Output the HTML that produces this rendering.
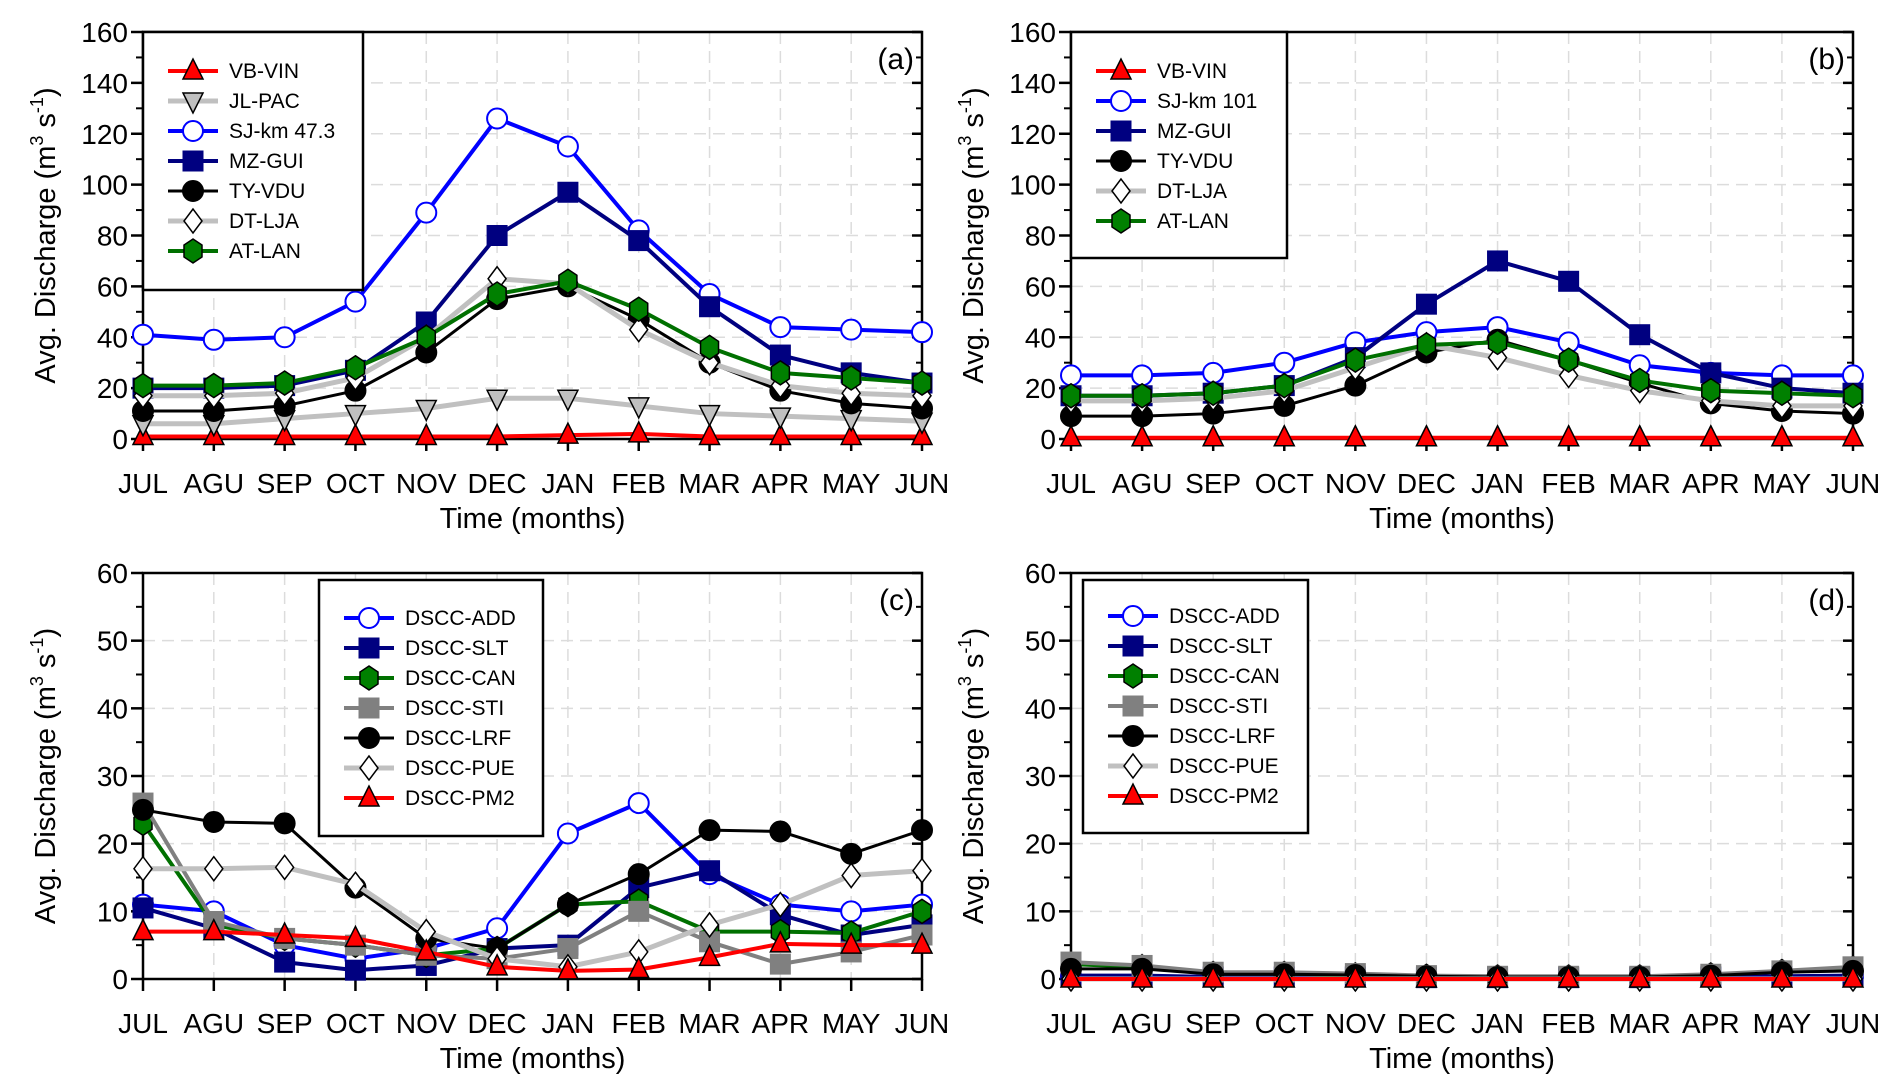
<!DOCTYPE html>
<html><head><meta charset="utf-8"><style>
html,body{margin:0;padding:0;background:#fff;}
svg{display:block;}
text{font-family:"Liberation Sans",Arial,sans-serif;}
</style></head><body>
<svg id="chart" width="1892" height="1092" viewBox="0 0 1892 1092" xmlns="http://www.w3.org/2000/svg"></svg>
<script>
const months = ["JUL","AGU","SEP","OCT","NOV","DEC","JAN","FEB","MAR","APR","MAY","JUN"];
const ticksAB = [0,20,40,60,80,100,120,140,160];
const ticksCD = [0,10,20,30,40,50,60];

// Panel (a)
const aVBVIN = [1,1,1,1,1,1,1.5,2,1,1,1,1];
const aJLPAC = [6,6,8,10,12,16,16,13,10,9,8,7];
const aSJ473 = [41,39,40,54,89,126,115,82,57,44,43,42];
const aMZGUI = [20,20,21,27,46,80,97,78,52,33,26,22];
const aTYVDU = [11,11,13,19,34,55,60,47,30,19,14,12];
const aDTLJA = [17,17,18,24,40,63,61,43,30,21,18,17];
const aATLAN = [21,21,22,28,40,57,62,51,36,26,24,22];
// Panel (b)
const bVBVIN = [0.5,0.5,0.5,0.5,0.5,0.5,0.5,0.5,0.5,0.5,0.5,0.5];
const bSJ101 = [25,25,26,30,38,42,44,38,29,26,25,25];
const bMZGUI = [17,17,18,21,32,53,70,62,41,26,20,18];
const bTYVDU = [9,9,10,13,21,34,39,31,22,14,11,10];
const bDTLJA = [15,15,16,19,28,37,32,25,19,15,13,13];
const bATLAN = [17,17,18,21,31,37,38,31,23,19,18,17];
// Panel (c)
const cADD = [11,10,5,3,4.5,7.5,21.5,26,15.5,11,10,11];
const cSLT = [10.5,7.5,2.5,1.3,2,4.5,5,13.5,16,9.5,6.5,8];
const cCAN = [23,8,6,5,3.5,4.5,11,11.5,7,7,6.8,10];
const cSTI = [26,8.5,6,5,3.5,3,4.5,10,5.5,2.2,4,6.5];
const cLRF = [25,23.2,23,13.5,6,4.5,11,15.5,22,21.8,18.5,22];
const cPUE = [16.3,16.3,16.5,14,7,3,1.8,4,8,11,15.3,16];
const cPM2 = [7,7,6.5,6,4,1.8,1.2,1.4,3.2,5.2,5,5];
// Panel (d)
const dADD = [0.4,0.4,0.3,0.3,0.3,0.2,0.2,0.2,0.2,0.3,0.3,0.4];
const dSLT = [0.5,0.5,0.3,0.3,0.3,0.2,0.2,0.2,0.2,0.3,0.4,0.5];
const dCAN = [2.2,1.8,0.8,0.8,0.6,0.4,0.3,0.3,0.3,0.6,1.1,1.6];
const dSTI = [2.5,2,1,1,0.8,0.5,0.4,0.4,0.4,0.7,1.2,1.8];
const dLRF = [1.5,1.5,0.7,0.7,0.6,0.4,0.3,0.3,0.3,0.5,1,1.2];
const dPUE = [0,0,0,0,0,0,0,0,0,0,0,0];
const dPM2 = [0,0,0,0,0,0,0,0,0,0,0,0];

const NS="http://www.w3.org/2000/svg";
const svg=document.getElementById('chart');
function mk(tag,attrs,parent){const e=document.createElementNS(NS,tag);for(const k in attrs)e.setAttribute(k,attrs[k]);(parent||svg).appendChild(e);return e;}

const ST = {
 vb:{line:"#ff0000",lw:4,m:"triU",fill:"#ff0000"},
 jl:{line:"#c0c0c0",lw:5,m:"triD",fill:"#c0c0c0"},
 sj:{line:"#0000ff",lw:4,m:"circ",fill:"#ffffff",stroke:"#0000ff"},
 mz:{line:"#000080",lw:4,m:"sq",fill:"#000080",stroke:"#000080"},
 ty:{line:"#000000",lw:3,m:"circ",fill:"#000000"},
 dt:{line:"#c0c0c0",lw:5,m:"dia",fill:"#ffffff"},
 at:{line:"#007000",lw:4,m:"hex",fill:"#008000"},
 sti:{line:"#808080",lw:4,m:"sq",fill:"#808080",stroke:"#808080"}
};

function marker(g,type,x,y,st){
 const s=st.stroke||"#000"; const r=10;
 let e;
 if(type==="circ") e=mk('circle',{cx:x,cy:y,r:r,fill:st.fill,stroke:s,'stroke-width':2},g);
 else if(type==="sq") e=mk('rect',{x:x-r,y:y-r,width:2*r,height:2*r,fill:st.fill,stroke:s,'stroke-width':1},g);
 else if(type==="triU") e=mk('polygon',{points:`${x},${y-12} ${x-10},${y+8} ${x+10},${y+8}`,fill:st.fill,stroke:s,'stroke-width':1.5},g);
 else if(type==="triD") e=mk('polygon',{points:`${x},${y+12} ${x-10},${y-8} ${x+10},${y-8}`,fill:st.fill,stroke:s,'stroke-width':1.5},g);
 else if(type==="dia") e=mk('polygon',{points:`${x},${y-12} ${x-9},${y} ${x},${y+12} ${x+9},${y}`,fill:st.fill,stroke:s,'stroke-width':1.5},g);
 else if(type==="hex") e=mk('polygon',{points:`${x},${y-12} ${x+9},${y-6} ${x+9},${y+6} ${x},${y+12} ${x-9},${y+6} ${x-9},${y-6}`,fill:st.fill,stroke:s,'stroke-width':1.5},g);
 return e;
}

function panel(cfg){
 const {x0,x1,y0,y1,max,ticks,minor,label,series,legend,name}=cfg;
 const g=mk('g',{});
 
 
 const xs=i=>x0+(x1-x0)*i/(months.length-1);
 const ys=v=>y1-(y1-y0)*v/max;
 months.forEach((m,i)=>{ if(i>0&&i<months.length-1) mk('line',{x1:xs(i),x2:xs(i),y1:y0,y2:y1,stroke:"#dcdcdc",'stroke-width':1.5,'stroke-dasharray':"12,7"},g);});
 ticks.forEach(t=>{ if(t>0&&t<max) mk('line',{x1:x0,x2:x1,y1:ys(t),y2:ys(t),stroke:"#dcdcdc",'stroke-width':1.5,'stroke-dasharray':"12,7"},g);});
 mk('rect',{x:x0,y:y0,width:x1-x0,height:y1-y0,fill:"none",stroke:"#000",'stroke-width':2.5},g);
 ticks.forEach(t=>{
  mk('line',{x1:x0-12,x2:x0,y1:ys(t),y2:ys(t),stroke:"#000",'stroke-width':2.5},g);
  mk('line',{x1:x1-10,x2:x1,y1:ys(t),y2:ys(t),stroke:"#000",'stroke-width':2.5},g);
  const tl=mk('text',{x:x0-15,y:ys(t)+10,'text-anchor':'end','font-size':28},g);
  tl.textContent=t;
  
  
 });
 for(let t=minor;t<max;t+=minor*2){
  mk('line',{x1:x0-7,x2:x0,y1:ys(t),y2:ys(t),stroke:"#000",'stroke-width':2},g);
  mk('line',{x1:x1-6,x2:x1,y1:ys(t),y2:ys(t),stroke:"#000",'stroke-width':2},g);
 }
 months.forEach((m,i)=>{
  mk('line',{x1:xs(i),x2:xs(i),y1:y1,y2:y1+12,stroke:"#000",'stroke-width':2.5},g);
  const ml=mk('text',{x:xs(i),y:y1+54,'text-anchor':'middle','font-size':28},g);
  ml.textContent=m;
  
  
 });
 const xt=mk('text',{x:(x0+x1)/2,y:y1+89,'text-anchor':'middle','font-size':29},g);
 xt.textContent="Time (months)";
 
 
 const yt=mk('text',{x:0,y:0,'text-anchor':'middle','font-size':29,transform:`translate(${x0-88},${(y0+y1)/2}) rotate(-90)`},g);
 yt.innerHTML='Avg. Discharge (m<tspan font-size="18" dy="-12">3</tspan><tspan dy="12"> s</tspan><tspan font-size="18" dy="-12">-1</tspan><tspan dy="12">)</tspan>';
 
 
 const pl=mk('text',{x:x1-8,y:y0+37,'text-anchor':'end','font-size':30},g);
 pl.textContent=label;
 
 
 series.forEach(s=>{
  const st=s.st;
  const sg=mk('g',{},g);
  
  
  mk('polyline',{points:s.v.map((v,i)=>xs(i)+','+ys(v)).join(' '),fill:'none',stroke:st.line,'stroke-width':st.lw,'stroke-linejoin':'round'},sg);
  s.v.forEach((v,i)=>{const e=marker(sg,st.m,xs(i),ys(v),st);
   
   });
 });
 const [lx0,ly0,lx1,ly1,ey]=legend;
 const lg=mk('g',{},g);
 
 
 mk('rect',{x:lx0,y:ly0,width:lx1-lx0,height:ly1-ly0,fill:'#fff',stroke:'#000','stroke-width':2.5},lg);
 series.forEach((s,k)=>{
  const y=ey+k*30;
  const eg=mk('g',{},lg);
  
  
  mk('line',{x1:lx0+25,x2:lx0+75,y1:y,y2:y,stroke:s.st.line,'stroke-width':s.st.lw},eg);
  marker(eg,s.st.m,lx0+50,y,s.st);
  const t=mk('text',{x:lx0+86,y:y+7,'font-size':21},eg);
  t.textContent=s.n;
 });
}

panel({name:'panel-a',x0:143,x1:922,y0:32,y1:439,max:160,ticks:ticksAB,minor:10,label:'(a)',
 legend:[143,32,363,290,71],
 series:[{n:'VB-VIN',v:aVBVIN,st:ST.vb},{n:'JL-PAC',v:aJLPAC,st:ST.jl},{n:'SJ-km 47.3',v:aSJ473,st:ST.sj},{n:'MZ-GUI',v:aMZGUI,st:ST.mz},{n:'TY-VDU',v:aTYVDU,st:ST.ty},{n:'DT-LJA',v:aDTLJA,st:ST.dt},{n:'AT-LAN',v:aATLAN,st:ST.at}]});
panel({name:'panel-b',x0:1071,x1:1853,y0:32,y1:439,max:160,ticks:ticksAB,minor:10,label:'(b)',
 legend:[1071,32,1287,258,71],
 series:[{n:'VB-VIN',v:bVBVIN,st:ST.vb},{n:'SJ-km 101',v:bSJ101,st:ST.sj},{n:'MZ-GUI',v:bMZGUI,st:ST.mz},{n:'TY-VDU',v:bTYVDU,st:ST.ty},{n:'DT-LJA',v:bDTLJA,st:ST.dt},{n:'AT-LAN',v:bATLAN,st:ST.at}]});
const seriesC=(A,S,C,T,L,P,M)=>[{n:'DSCC-ADD',v:A,st:ST.sj},{n:'DSCC-SLT',v:S,st:ST.mz},{n:'DSCC-CAN',v:C,st:ST.at},{n:'DSCC-STI',v:T,st:ST.sti},{n:'DSCC-LRF',v:L,st:ST.ty},{n:'DSCC-PUE',v:P,st:ST.dt},{n:'DSCC-PM2',v:M,st:ST.vb}];
panel({name:'panel-c',x0:143,x1:922,y0:573,y1:979,max:60,ticks:ticksCD,minor:5,label:'(c)',
 legend:[319,580,543,836,618],
 series:seriesC(cADD,cSLT,cCAN,cSTI,cLRF,cPUE,cPM2)});
panel({name:'panel-d',x0:1071,x1:1853,y0:573,y1:979,max:60,ticks:ticksCD,minor:5,label:'(d)',
 legend:[1083,580,1308,833,616],
 series:seriesC(dADD,dSLT,dCAN,dSTI,dLRF,dPUE,dPM2)});
</script>
</body></html>
